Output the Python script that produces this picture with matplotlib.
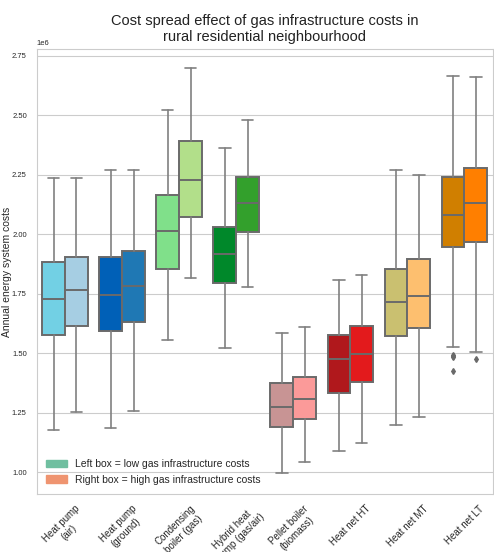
import numpy as np
import matplotlib
matplotlib.use("Agg")
import matplotlib.pyplot as plt
import matplotlib.patches as mpatches
import seaborn as sns

sns.set_style("whitegrid")
plt.rcParams['font.family'] = ['Liberation Sans', 'DejaVu Sans']

# technologies on the x axis
categories = ['Heat pump\n(air)', 'Heat pump\n(ground)', 'Condensing\nboiler (gas)',
              'Hybrid heat\npump (gas/air)', 'Pellet boiler\n(biomass)',
              'Heat net HT', 'Heat net MT', 'Heat net LT']

# box stats in millions: whisker low, Q1, median, Q3, whisker high
low_gas = {
    'whislo': [1.179, 1.186, 1.557, 1.521, 0.995, 1.089, 1.200, 1.525],
    'q1':     [1.578, 1.595, 1.854, 1.795, 1.191, 1.334, 1.574, 1.947],
    'med':    [1.729, 1.746, 2.015, 1.917, 1.274, 1.477, 1.714, 2.082],
    'q3':     [1.883, 1.903, 2.166, 2.032, 1.374, 1.575, 1.853, 2.242],
    'whishi': [2.237, 2.271, 2.523, 2.361, 1.586, 1.808, 2.271, 2.666],
}
high_gas = {
    'whislo': [1.252, 1.256, 1.815, 1.777, 1.042, 1.124, 1.232, 1.506],
    'q1':     [1.616, 1.632, 2.074, 2.008, 1.225, 1.380, 1.605, 1.966],
    'med':    [1.766, 1.781, 2.228, 2.132, 1.306, 1.498, 1.742, 2.130],
    'q3':     [1.905, 1.931, 2.392, 2.242, 1.399, 1.616, 1.897, 2.279],
    'whishi': [2.237, 2.268, 2.698, 2.480, 1.609, 1.829, 2.247, 2.659],
}
low_outliers = {7: [1.492, 1.487, 1.483, 1.426]}
high_outliers = {7: [1.477]}

left_colors = ['#72d0e4', '#0060b7', '#80e08a', '#00882a', '#c89494', '#b0181c', '#cac070', '#d07f00']
right_colors = ['#a6cee3', '#1f78b4', '#b2df8a', '#33a02c', '#fb9a99', '#e31a1c', '#fdbf6f', '#ff7f00']


def make_stats(d, outliers):
    stats = []
    for i in range(len(categories)):
        s = {k: d[k][i] * 1e6 for k in d}
        s['fliers'] = np.array(outliers.get(i, [])) * 1e6
        stats.append(s)
    return stats


fig = plt.figure(figsize=(4.94, 5.52), dpi=100)
ax = fig.add_axes([0.074, 0.105, 0.924, 0.806])

pos = np.arange(len(categories))
edge = '#6a6a6a'
common = dict(widths=0.4, patch_artist=True, showfliers=True,
              boxprops=dict(edgecolor=edge, linewidth=1.4),
              medianprops=dict(color=edge, linewidth=1.4),
              whiskerprops=dict(color='#808080', linewidth=1.2),
              capprops=dict(color='#808080', linewidth=1.2),
              flierprops=dict(marker='d', markersize=3, markerfacecolor=edge, markeredgecolor=edge))

for stats, offs, cols in [(make_stats(low_gas, low_outliers), -0.2, left_colors),
                          (make_stats(high_gas, high_outliers), 0.2, right_colors)]:
    bp = ax.bxp(stats, positions=pos + offs, **common)
    for patch, c in zip(bp['boxes'], cols):
        patch.set_facecolor(c)

ax.set_xlim(-0.5, len(categories) - 0.5)
ax.set_ylim(0.908e6, 2.778e6)
ax.set_xticks(pos)
ax.set_xticklabels(categories, rotation=45, fontsize=7)
ax.tick_params(axis='y', labelsize=5.5)
ax.yaxis.get_offset_text().set_fontsize(5.5)
ax.xaxis.grid(False)
ax.set_ylabel('Annual energy system costs', fontsize=7.5)
ax.yaxis.set_label_coords(-0.053, 0.5)
ax.set_title('Cost spread effect of gas infrastructure costs in\nrural residential neighbourhood',
             fontsize=10.5, color='#222222')

handles = [mpatches.Patch(facecolor='#70bfa0', edgecolor='#70bfa0', label='Left box = low gas infrastructure costs'),
           mpatches.Patch(facecolor='#ef9470', edgecolor='#ef9470', label='Right box = high gas infrastructure costs')]
ax.legend(handles=handles, loc='lower left', fontsize=7.5, frameon=False)

fig.savefig('out.png', dpi=100)
